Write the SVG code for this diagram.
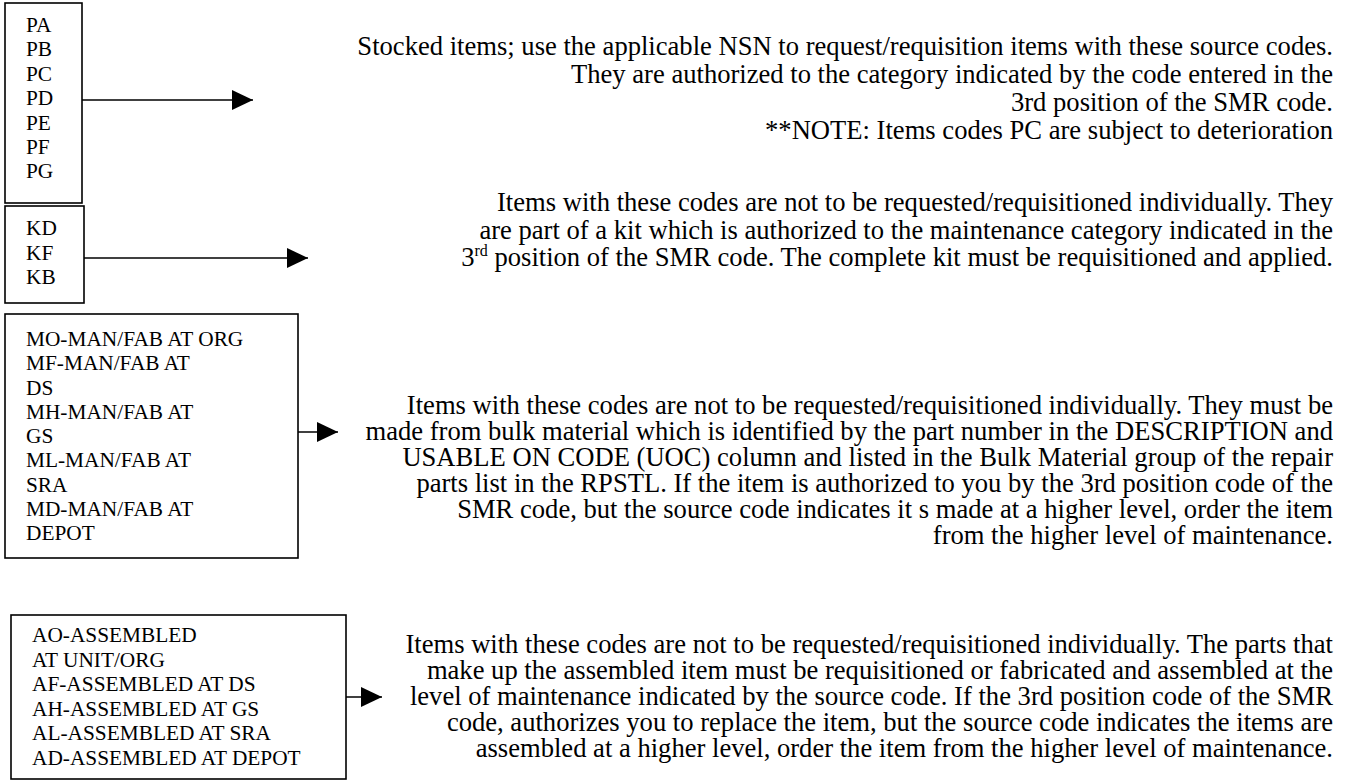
<svg xmlns="http://www.w3.org/2000/svg" width="1346" height="780" viewBox="0 0 1346 780">
<defs>
<style>
.box{fill:#fff;stroke:#000;stroke-width:1.6}
.bt{font-family:"Liberation Serif","Times New Roman",serif;font-size:21.33px;fill:#000}
.pt{font-family:"Liberation Serif","Times New Roman",serif;font-size:26.6px;fill:#000;text-anchor:end}
.conn{stroke:#000;stroke-width:1.6;fill:none;marker-end:url(#ah)}
</style>
<marker id="ah" markerUnits="userSpaceOnUse" markerWidth="22" markerHeight="22" refX="21" refY="10" orient="auto">
<path d="M0,0 L21,10 L0,20 Z" fill="#000"/>
</marker>
</defs>
<rect width="1346" height="780" fill="#fff"/>
<g id="box-p">
<rect class="box" x="5" y="3" width="77" height="200"/>
<text class="bt" x="26" y="32">PA</text>
<text class="bt" x="26" y="56.4">PB</text>
<text class="bt" x="26" y="80.8">PC</text>
<text class="bt" x="26" y="105.2">PD</text>
<text class="bt" x="26" y="129.6">PE</text>
<text class="bt" x="26" y="154">PF</text>
<text class="bt" x="26" y="178.4">PG</text>
</g>
<g id="box-k">
<rect class="box" x="5" y="206" width="79" height="97"/>
<text class="bt" x="26" y="235">KD</text>
<text class="bt" x="26" y="259.5">KF</text>
<text class="bt" x="26" y="284">KB</text>
</g>
<g id="box-m">
<rect class="box" x="5" y="314" width="293" height="244"/>
<text class="bt" x="26" y="346">MO-MAN/FAB AT ORG</text>
<text class="bt" x="26" y="370.25">MF-MAN/FAB AT</text>
<text class="bt" x="26" y="394.5">DS</text>
<text class="bt" x="26" y="418.75">MH-MAN/FAB AT</text>
<text class="bt" x="26" y="443">GS</text>
<text class="bt" x="26" y="467.25">ML-MAN/FAB AT</text>
<text class="bt" x="26" y="491.5">SRA</text>
<text class="bt" x="26" y="515.75">MD-MAN/FAB AT</text>
<text class="bt" x="26" y="540">DEPOT</text>
</g>
<g id="box-a">
<rect class="box" x="11" y="615" width="335" height="164"/>
<text class="bt" x="32" y="642">AO-ASSEMBLED</text>
<text class="bt" x="32" y="666.5">AT UNIT/ORG</text>
<text class="bt" x="32" y="691">AF-ASSEMBLED AT DS</text>
<text class="bt" x="32" y="715.5">AH-ASSEMBLED AT GS</text>
<text class="bt" x="32" y="740">AL-ASSEMBLED AT SRA</text>
<text class="bt" x="32" y="764.5">AD-ASSEMBLED AT DEPOT</text>
</g>
<g id="desc-p">
<text class="pt" x="1333" y="55">Stocked items; use the applicable NSN to request/requisition items with these source codes.</text>
<text class="pt" x="1333" y="83">They are authorized to the category indicated by the code entered in the</text>
<text class="pt" x="1333" y="111">3rd position of the SMR code.</text>
<text class="pt" x="1333" y="139">**NOTE: Items codes PC are subject to deterioration</text>
</g>
<g id="desc-k">
<text class="pt" x="1333" y="211">Items with these codes are not to be requested/requisitioned individually. They</text>
<text class="pt" x="1333" y="238.5">are part of a kit which is authorized to the maintenance category indicated in the</text>
<text class="pt" x="1333" y="266">3<tspan font-size="16" dy="-10">rd</tspan><tspan dy="10"> position of the SMR code. The complete kit must be requisitioned and applied.</tspan></text>
</g>
<g id="desc-m">
<text class="pt" x="1333" y="414">Items with these codes are not to be requested/requisitioned individually. They must be</text>
<text class="pt" x="1333" y="440">made from bulk material which is identified by the part number in the DESCRIPTION and</text>
<text class="pt" x="1333" y="466">USABLE ON CODE (UOC) column and listed in the Bulk Material group of the repair</text>
<text class="pt" x="1333" y="492">parts list in the RPSTL. If the item is authorized to you by the 3rd position code of the</text>
<text class="pt" x="1333" y="518">SMR code, but the source code indicates it s made at a higher level, order the item</text>
<text class="pt" x="1333" y="544">from the higher level of maintenance.</text>
</g>
<g id="desc-a">
<text class="pt" x="1333" y="653">Items with these codes are not to be requested/requisitioned individually. The parts that</text>
<text class="pt" x="1333" y="679">make up the assembled item must be requisitioned or fabricated and assembled at the</text>
<text class="pt" x="1333" y="705">level of maintenance indicated by the source code. If the 3rd position code of the SMR</text>
<text class="pt" x="1333" y="731">code, authorizes you to replace the item, but the source code indicates the items are</text>
<text class="pt" x="1333" y="757">assembled at a higher level, order the item from the higher level of maintenance.</text>
</g>
<g id="connectors">
<line class="conn" x1="82" y1="100" x2="253" y2="100"/>
<line class="conn" x1="84" y1="258" x2="308" y2="258"/>
<line class="conn" x1="298" y1="432" x2="338" y2="432"/>
<line class="conn" x1="346" y1="697" x2="382" y2="697"/>
</g>
</svg>
